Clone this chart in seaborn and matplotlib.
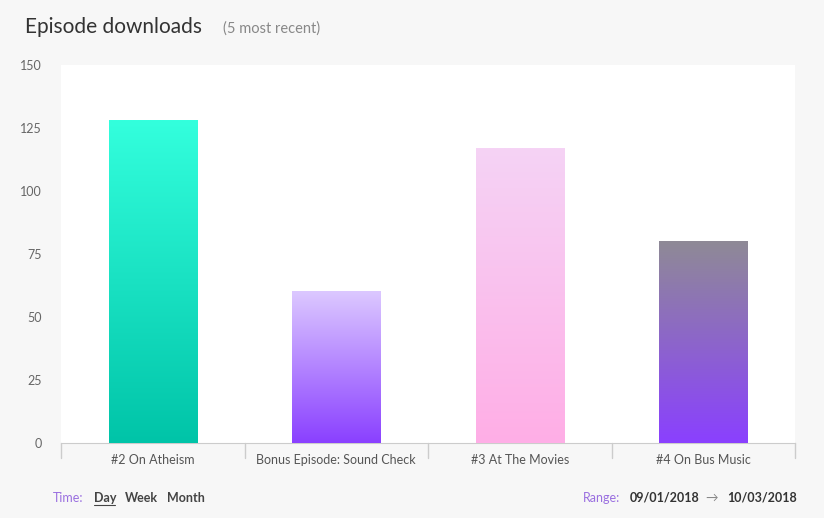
import matplotlib
matplotlib.use("Agg")
import matplotlib.pyplot as plt
import seaborn as sns
import numpy as np
import pandas as pd
from matplotlib.colors import LinearSegmentedColormap

episodes = ["#2 On Atheism", "Bonus Episode: Sound Check", "#3 At The Movies", "#4 On Bus Music"]
downloads = [128, 60, 117, 80]
yticks = [0, 25, 50, 75, 100, 125, 150]
grad_top = ["#33ffdd", "#dcc8ff", "#f5d3f5", "#8f8a96"]
grad_bot = ["#00c4a8", "#8a40ff", "#ffaee6", "#8a40ff"]

sns.set_style("white")
plt.rcParams['font.family'] = ['Lato', 'DejaVu Sans']
fig = plt.figure(figsize=(8.24, 5.18), dpi=100, facecolor="#f7f7f7")
ax = fig.add_axes([61/824, 1-443/518, 734/824, 378/518])
ax.set_facecolor("white")
df = pd.DataFrame({"ep": episodes, "n": downloads})
sns.barplot(data=df, x="ep", y="n", ax=ax, width=0.48, color="white")
ax.set_ylim(0, 150)
ax.set_xlim(-0.5, 3.5)
for i, p in enumerate(ax.patches):
    x0, w, h = p.get_x(), p.get_width(), p.get_height()
    cmap = LinearSegmentedColormap.from_list("g", [grad_bot[i], grad_top[i]])
    grad = np.linspace(0, 1, 256).reshape(-1, 1)
    ax.imshow(grad, extent=[x0, x0 + w, 0, h], origin="lower", aspect="auto", cmap=cmap, zorder=3)
ax.set_xlim(-0.5, 3.5)
ax.set_ylim(0, 150)
for s in ["top", "right", "left"]:
    ax.spines[s].set_visible(False)
ax.spines["bottom"].set_color("#cccccc")
ax.set_xlabel(""); ax.set_ylabel("")
ax.set_yticks(yticks)
ax.tick_params(axis="y", length=0, labelsize=9, labelcolor="#666666", pad=14)
ax.set_xticks(range(4))
ax.set_xticklabels(episodes, fontsize=9, color="#555555")
ax.tick_params(axis="x", length=0, pad=8)
for b in [-0.5, 0.5, 1.5, 2.5, 3.5]:
    ax.plot([b, b], [0, -6], color="#cccccc", lw=1, clip_on=False)

fig.text(25/824, 1-27/518, "Episode downloads", fontsize=15, color="#333333", va="center")
fig.text(223/824, 1-29/518, "(5 most recent)", fontsize=10.5, color="#888888", va="center")
fig.text(53/824, 1-498/518, "Time:", fontsize=9, color="#9a6fe0", va="center")
fig.text(94/824, 1-498/518, "Day", fontsize=9, color="#444444", va="center", fontweight="bold")
fig.add_artist(plt.Line2D([94/824, 115/824], [1-505/518]*2, color="#444444", lw=0.8))
fig.text(125/824, 1-498/518, "Week", fontsize=9, color="#444444", va="center", fontweight="bold")
fig.text(167/824, 1-498/518, "Month", fontsize=9, color="#444444", va="center", fontweight="bold")
fig.text(583/824, 1-498/518, "Range:", fontsize=9, color="#9a6fe0", va="center")
fig.text(630/824, 1-498/518, "09/01/2018", fontsize=9, color="#333333", va="center", fontweight="bold")
fig.text(705/824, 1-498/518, "→", fontsize=9, color="#888888", va="center")
fig.text(727/824, 1-498/518, "10/03/2018", fontsize=9, color="#333333", va="center", fontweight="bold")
fig.savefig("out.png", dpi=100, facecolor=fig.get_facecolor())
